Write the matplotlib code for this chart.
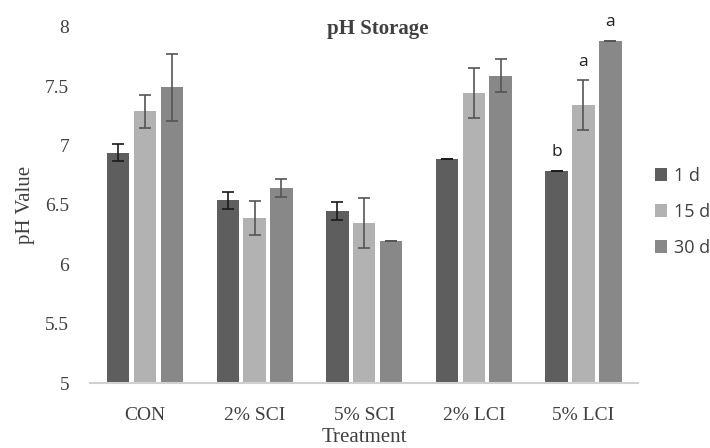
import numpy as np
import matplotlib.pyplot as plt

treatments = ["CON", "2% SCI", "5% SCI", "2% LCI", "5% LCI"]
days = ["1 d", "15 d", "30 d"]
ph_1d = [6.94, 6.54, 6.45, 6.89, 6.79]
ph_15d = [7.29, 6.39, 6.35, 7.44, 7.34]
ph_30d = [7.49, 6.64, 6.20, 7.59, 7.88]
err_1d = [0.07, 0.07, 0.075, 0.0, 0.0]
err_15d = [0.14, 0.145, 0.21, 0.21, 0.21]
err_30d = [0.28, 0.075, 0.0, 0.14, 0.0]
letters_5lci = ["b", "a", "a"]

colors = ["#5e5e5e", "#b2b2b2", "#888888"]
ecolors = ["#1a1a1a", "#555555", "#555555"]
serif = "Liberation Serif"
sans = "Open Sans"

fig = plt.figure(figsize=(7.1, 4.48), dpi=100)
ax = fig.add_axes([0.127, 0.145, 0.772, 0.795])

x = np.arange(len(treatments))
offsets = [-0.245, 0, 0.245]
series = [ph_1d, ph_15d, ph_30d]
errs = [err_1d, err_15d, err_30d]
for i in range(3):
    ax.bar(x + offsets[i], np.array(series[i]) - 5, bottom=5, width=0.205,
           color=colors[i], label=days[i], zorder=2)
    ax.errorbar(x + offsets[i], series[i], yerr=errs[i], fmt="none",
                ecolor=ecolors[i], elinewidth=1.2, capsize=4, capthick=1.2, zorder=3)

# significance letters on 5% LCI
for i in range(3):
    top = series[i][4] + errs[i][4]
    ax.text(x[4] + offsets[i], top + 0.09, letters_5lci[i], ha="center", va="bottom",
            fontsize=12.5, family=sans, color="#222222")

ax.set_ylim(5, 8)
ax.set_xlim(-0.5, 4.5)
ax.set_yticks([5, 5.5, 6, 6.5, 7, 7.5, 8])
ax.set_yticklabels(["5", "5.5", "6", "6.5", "7", "7.5", "8"])
ax.set_xticks(x)
ax.set_xticklabels(treatments)
for lbl in ax.get_xticklabels() + ax.get_yticklabels():
    lbl.set_family(serif)
    lbl.set_fontsize(14)
    lbl.set_color("#404040")
ax.tick_params(axis="both", length=0)
ax.tick_params(axis="y", pad=15)
ax.tick_params(axis="x", pad=17)
for s in ["top", "right", "left"]:
    ax.spines[s].set_visible(False)
ax.spines["bottom"].set_color("#d0d0d0")
ax.spines["bottom"].set_linewidth(1.5)

ax.set_title("pH Storage", family=serif, fontsize=15, fontweight="bold", color="#404040",
             pad=0, y=0.98, x=0.525)
ax.set_ylabel("pH Value", family=serif, fontsize=15, color="#404040", labelpad=7)
ax.set_xlabel("Treatment", family=serif, fontsize=15, color="#404040", labelpad=3)

leg = ax.legend(loc="center left", bbox_to_anchor=(1.0, 0.48), frameon=False,
                prop={"family": sans, "size": 13}, labelspacing=1.0,
                handlelength=0.7, handleheight=0.7, handletextpad=0.4)
for t in leg.get_texts():
    t.set_color("#404040")

fig.savefig("out.png", dpi=100)
